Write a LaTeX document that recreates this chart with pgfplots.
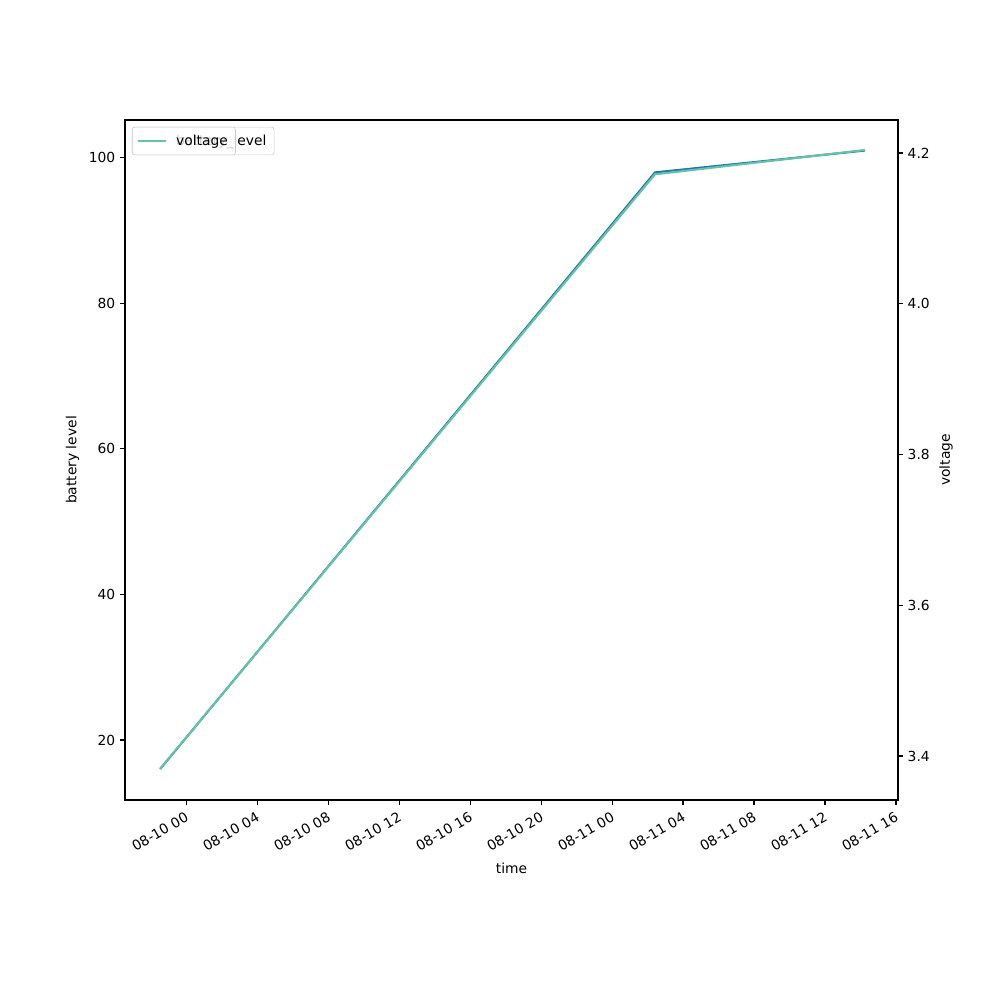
\documentclass[border=0pt]{standalone}
\usepackage{fontspec}
\setmainfont{DejaVu Sans}
\usepackage{pgfplots}
\pgfplotsset{compat=1.18}
\definecolor{bblue}{HTML}{1F77B4}
\definecolor{vteal}{HTML}{66C2A5}
\pgfplotsset{
  base/.style={
    scale only axis, width=19.634cm, height=17.272cm,
    xmin=-3.44, xmax=40.11,
    tick align=outside, major tick length=3.5pt,
    every tick/.style={black, line width=0.8pt},
    axis line style={line width=0.8pt},
    /pgf/number format/assume math mode=true,
    ticklabel style={font=\fontsize{10}{12}\selectfont},
    label style={font=\fontsize{10}{12}\selectfont},
    legend style={at={(0.009,0.99)}, anchor=north west, draw=black!20, rounded corners=2pt,
      font=\fontsize{10}{12}\selectfont, fill=white, fill opacity=0.8, draw opacity=1, text opacity=1,
      inner sep=3.5pt},
    legend image code/.code={\draw[#1] (0cm,0cm) -- (0.72cm,0cm); \path (0.87cm,0cm);},
  }
}
\begin{document}
\begin{tikzpicture}
\useasboundingbox (-3.175cm,-5.08cm) rectangle (22.225cm,20.32cm);
\begin{axis}[base,
  ymin=11.75, ymax=105.2,
  xtick pos=bottom, ytick pos=left,
  xtick={0,4,8,12,16,20,24,28,32,36,40},
  xticklabels={08-10 00,08-10 04,08-10 08,08-10 12,08-10 16,08-10 20,08-11 00,08-11 04,08-11 08,08-11 12,08-11 16},
  xticklabel style={rotate=30, anchor=north east},
  ytick={20,40,60,80,100},
  xlabel={time}, ylabel={battery level},
]
\addplot[bblue, line width=1.5pt] coordinates {(-1.46,16) (26.42,98) (38.25,101)};
\addlegendentry{battery\_level}
\end{axis}
\begin{axis}[base,
  ymin=3.3416, ymax=4.2438,
  axis x line=none, axis y line*=right,
  ytick={3.4,3.6,3.8,4.0,4.2},
  yticklabel style={/pgf/number format/.cd, fixed, fixed zerofill, precision=1},
  ylabel={voltage},
]
\addplot[vteal, line width=1.5pt] coordinates {(-1.46,3.383) (26.42,4.1717) (38.25,4.204)};
\addlegendentry{voltage}
\end{axis}
\end{tikzpicture}
\end{document}
